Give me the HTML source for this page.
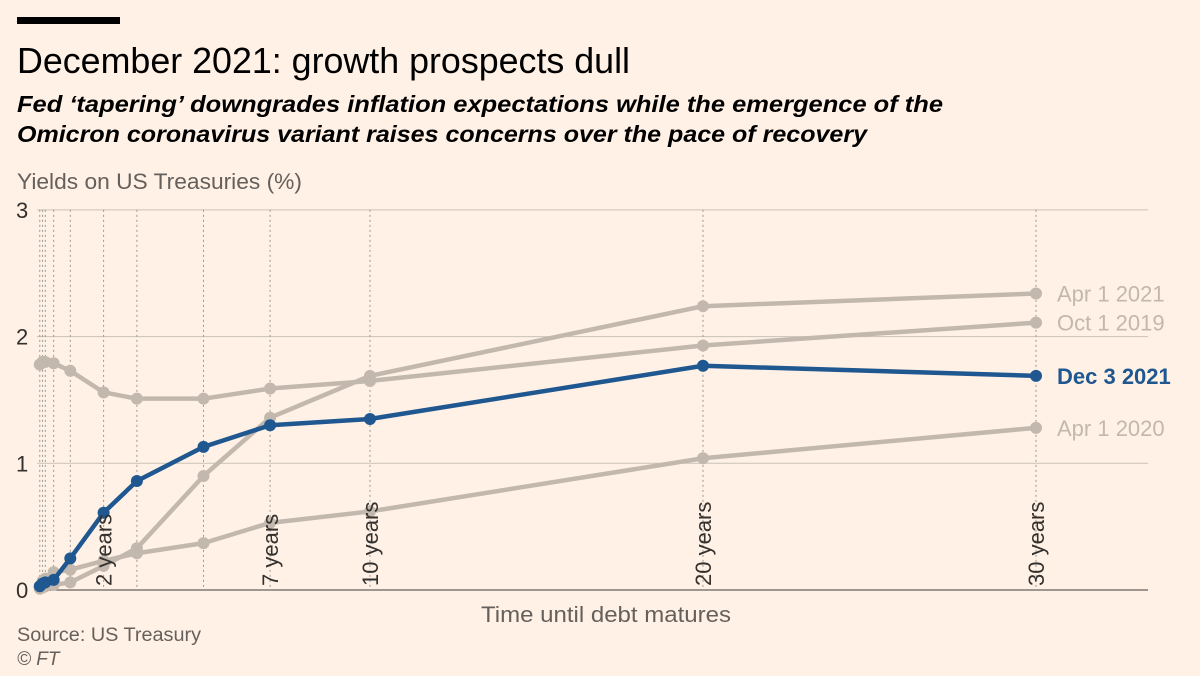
<!DOCTYPE html>
<html><head><meta charset="utf-8"><style>
body{margin:0;background:#fff1e5;width:1200px;height:676px;overflow:hidden;font-family:"Liberation Sans",sans-serif}
</style></head><body>
<svg width="1200" height="676" style="position:absolute;left:0;top:0">
<rect x="17" y="17" width="103" height="7" fill="#000"/>
<text x="17" y="73" font-size="36" fill="#000" textLength="613" lengthAdjust="spacingAndGlyphs">December 2021: growth prospects dull</text>
<text x="17" y="112" font-size="23" font-weight="bold" font-style="italic" fill="#000" textLength="926" lengthAdjust="spacingAndGlyphs">Fed ‘tapering’ downgrades inflation expectations while the emergence of the</text>
<text x="17" y="142" font-size="23" font-weight="bold" font-style="italic" fill="#000" textLength="850" lengthAdjust="spacingAndGlyphs">Omicron coronavirus variant raises concerns over the pace of recovery</text>
<text x="17" y="189" font-size="22" fill="#66605c" textLength="285" lengthAdjust="spacingAndGlyphs">Yields on US Treasuries (%)</text>
<g id="grid"></g><g id="vlines"></g><g id="series"></g>
<text x="606" y="622" font-size="22" fill="#66605c" text-anchor="middle" textLength="250" lengthAdjust="spacingAndGlyphs">Time until debt matures</text>
<text x="17" y="641" font-size="19" fill="#66605c" textLength="184" lengthAdjust="spacingAndGlyphs">Source: US Treasury</text>
<text x="17" y="665" font-size="19" font-style="italic" fill="#66605c">© FT</text>
</svg>
<script>
const maturities=[1/12,2/12,3/12,0.5,1,2,3,5,7,10,20,30];
const labeledMaturities=[2,7,10,20,30];
const yTicks=[0,1,2,3];
const seriesNames=["Oct 1 2019","Apr 1 2020","Apr 1 2021","Dec 3 2021"];
const oct2019=[1.78,1.80,1.80,1.79,1.73,1.56,1.51,1.51,1.59,1.65,1.93,2.11];
const apr2020=[0.03,0.07,0.09,0.14,0.16,0.23,0.29,0.37,0.53,0.62,1.04,1.28];
const apr2021=[0.01,0.02,0.03,0.04,0.06,0.19,0.33,0.90,1.36,1.69,2.24,2.34];
const dec2021=[0.03,0.05,0.06,0.08,0.25,0.61,0.86,1.13,1.30,1.35,1.77,1.69];
const X=v=>37+v*33.3, Y=v=>590-v*126.7;
const NS="http://www.w3.org/2000/svg";
function mk(t,a,p){const e=document.createElementNS(NS,t);for(const k in a)e.setAttribute(k,a[k]);p.appendChild(e);return e;}
const grid=document.getElementById('grid'),vl=document.getElementById('vlines'),sg=document.getElementById('series');
yTicks.forEach(t=>{
 const l=mk('line',{x1:37,x2:1148,y1:Y(t),y2:Y(t),stroke:t===0?'#66605c':'#ccc1b7','stroke-width':t===0?1.2:1},grid);
 
 
 const tx=mk('text',{x:16,y:Y(t)+8,'font-size':22,fill:'#33302e'},grid);tx.textContent=t;
 
 
});
maturities.forEach(m=>{
 const l=mk('line',{x1:X(m),x2:X(m),y1:Y(3),y2:Y(0),stroke:'#999','stroke-width':1,'stroke-dasharray':'2,3'},vl);
 
 
});
function draw(vals,color,w,r,label,bold){
 const g=mk('g',{},sg);
 
 
 mk('polyline',{points:vals.map((v,i)=>X(maturities[i])+','+Y(v)).join(' '),fill:'none',stroke:color,'stroke-width':w,'stroke-linejoin':'round'},g);
 vals.forEach((v,i)=>{const c=mk('circle',{cx:X(maturities[i]),cy:Y(v),r:r,fill:color},g);
  
  });
 const t=mk('text',{x:1057,y:Y(vals[vals.length-1])+8,'font-size':22,fill:color,'font-weight':bold?'bold':'normal'},g);t.textContent=label;
 
 
}
draw(oct2019,'#c2b8ae',4.5,6,seriesNames[0]);
draw(apr2020,'#c2b8ae',4.5,6,seriesNames[1]);
draw(apr2021,'#c2b8ae',4.5,6,seriesNames[2]);
draw(dec2021,'#1f5790',4.5,6,seriesNames[3],true);
labeledMaturities.forEach(m=>{
 const t=mk('text',{x:0,y:0,'font-size':22,fill:'#33302e',transform:`translate(${X(m)+8},586) rotate(-90)`},vl.parentNode);
 t.textContent=m+' years';
 
 
});
</script>
</body></html>
